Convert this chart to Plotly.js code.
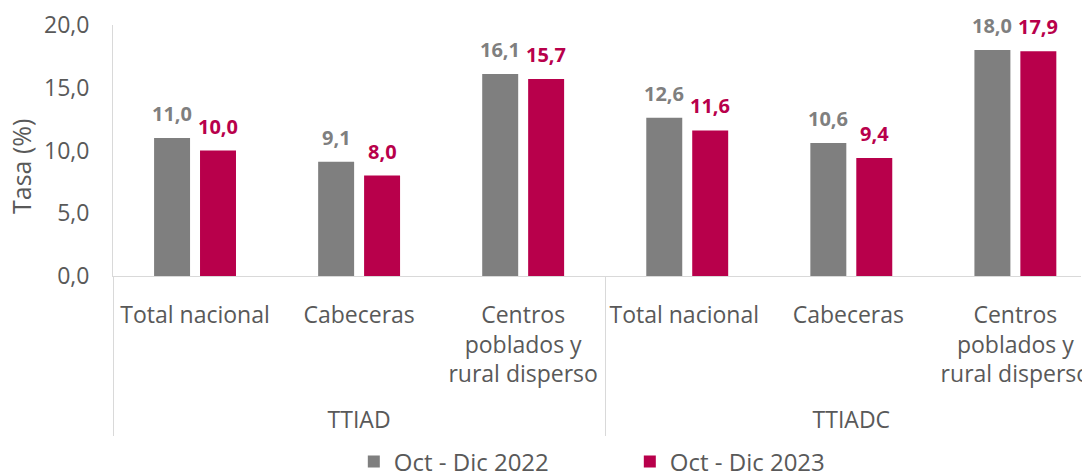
<!DOCTYPE html>
<html>
<head>
<meta charset="utf-8">
<script src="https://cdn.plot.ly/plotly-3.0.1.min.js"></script>
<style>
html,body{margin:0;padding:0;background:#fff;overflow:hidden;}
#chart{width:1082px;height:474px;}
</style>
</head>
<body>
<div id="chart"></div>
<script>
const groups = ["TTIAD","TTIAD","TTIAD","TTIADC","TTIADC","TTIADC"];
const categories = ["Total nacional","Cabeceras","Centros<br>poblados y<br>rural disperso<br> ","Total nacional ","Cabeceras ","Centros<br>poblados y<br>rural disperso<br>  "];
const series2022 = [11.0, 9.1, 16.1, 12.6, 10.6, 18.0];
const series2023 = [10.0, 8.0, 15.7, 11.6, 9.4, 17.9];
const seriesNames = ["Oct - Dic 2022","Oct - Dic 2023"];
const yTicks = [0,5,10,15,20];

const gray = "#7f7f7f";
const crimson = "#b8004b";
const textColor = "#595959";
const font = "Open Sans, Noto Sans, sans-serif";

function barTrace(vals, name, color){
  return {
    type:"bar",
    x:[groups, categories],
    y:vals,
    name:name,
    marker:{color:color},
    hoverinfo:"skip"
  };
}

const data = [
  barTrace(series2022, seriesNames[0], gray),
  barTrace(series2023, seriesNames[1], crimson)
];

// data labels as annotations anchored at bar tops
const annotations = [];
[[series2022, gray, -23],[series2023, crimson, 23]].forEach(([vals, color, dx]) => {
  vals.forEach((v, i) => {
    annotations.push({
      xref:"x", yref:"y", x:i, y:v, xshift:dx, yshift:9,
      xanchor:"center", yanchor:"bottom", showarrow:false,
      text:v.toFixed(1).replace(".", ","),
      font:{family:font, size:20, color:color, weight:"bold"}
    });
  });
});
annotations.push({
  xref:"paper", yref:"paper", x:(21-113)/968, y:(276-167)/251,
  xanchor:"center", yanchor:"middle", showarrow:false, textangle:-90,
  text:"Tasa (%)", font:{family:font, size:25, color:textColor}
});

const layout = {
  width:1082, height:474,
  margin:{l:113, r:1, t:25, b:198},
  paper_bgcolor:"#fff", plot_bgcolor:"#fff",
  separators:",.",
  font:{family:font, size:22, color:textColor},
  bargap:0.44, bargroupgap:0.217,
  showlegend:true,
  legend:{orientation:"h", xref:"container", yref:"container", x:0.327, xanchor:"left",
          y:12/474, yanchor:"middle", entrywidth:231, entrywidthmode:"pixels",
          font:{family:font, size:24, color:textColor}, traceorder:"normal"},
  annotations:annotations,
  xaxis:{type:"multicategory", range:[-0.5,5.4], automargin:false, showline:true, linecolor:"#d9d9d9", linewidth:1,
         showdividers:true, dividercolor:"#d9d9d9", dividerwidth:1, ticklabelstandoff:18,
         tickfont:{family:font, size:23, color:textColor}, ticks:"", showgrid:false, zeroline:false},
  yaxis:{range:[0,20], tickvals:yTicks, tickformat:".1f", automargin:false, showgrid:false, zeroline:false,
         showline:true, linecolor:"#d9d9d9", linewidth:1, ticks:"", ticklabelstandoff:18,
         tickfont:{family:font, size:23, color:textColor}}
};

Plotly.newPlot("chart", data, layout, {displayModeBar:false, staticPlot:true});
</script>
</body>
</html>
